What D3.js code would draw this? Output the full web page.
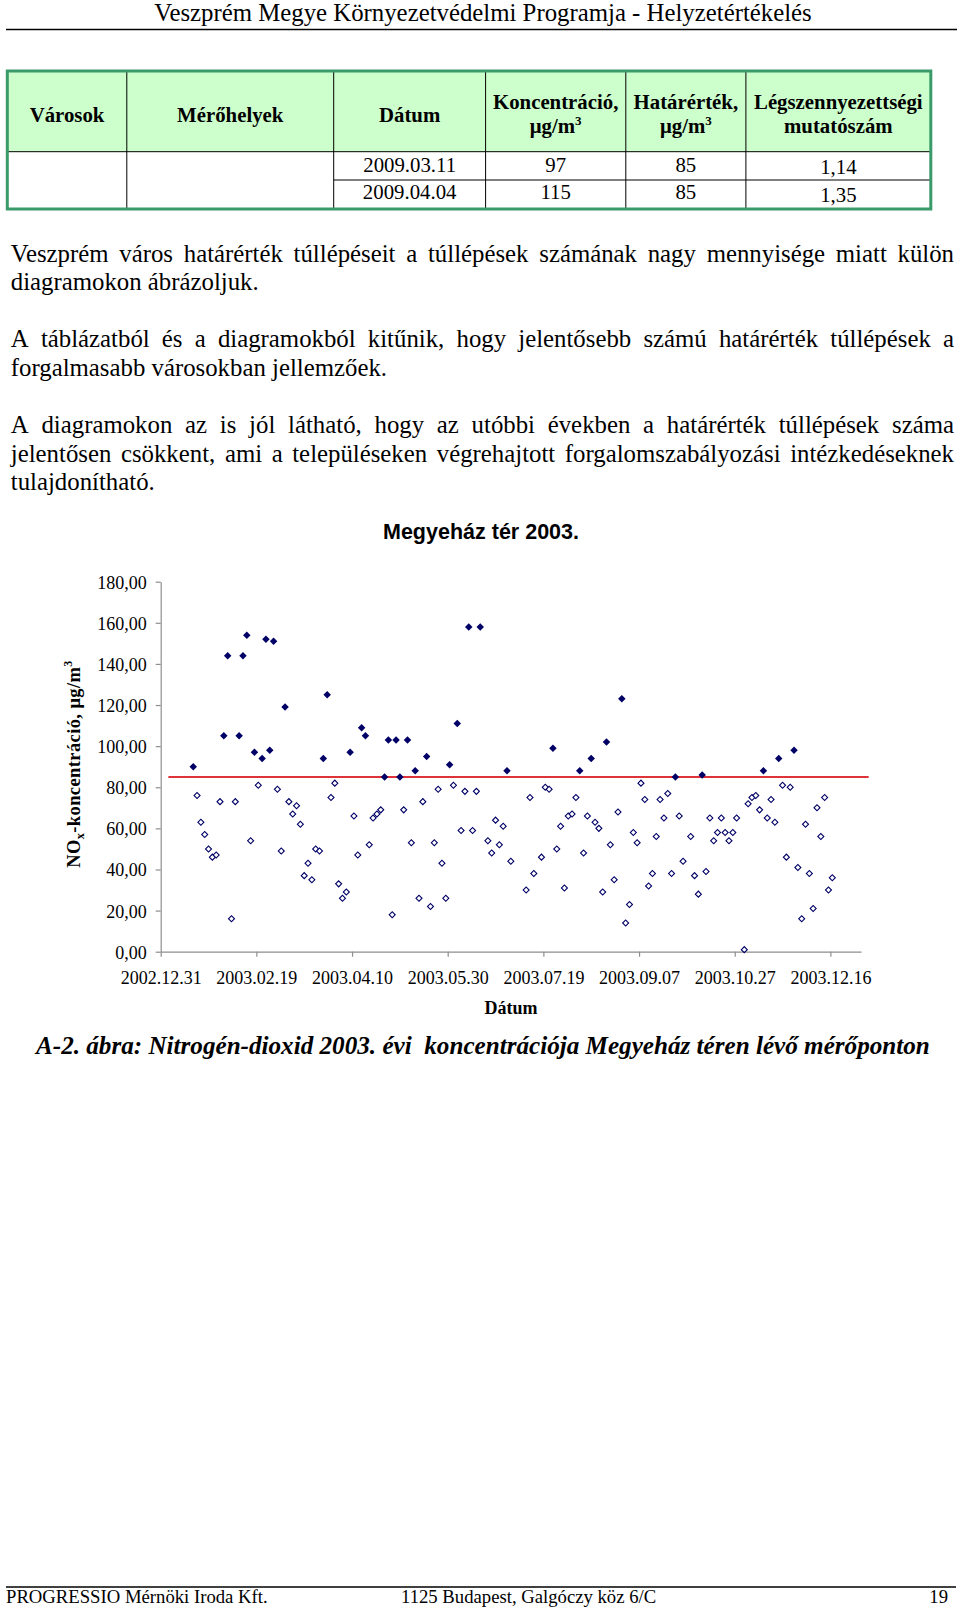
<!DOCTYPE html>
<html><head><meta charset="utf-8">
<script src="https://cdn.jsdelivr.net/npm/d3@7"></script>
<style>
html,body{margin:0;padding:0;background:#fff;}
svg{display:block;}
</style></head><body>
<svg id="page" width="960" height="1608"></svg>
<script>
// ---------------- DATA ----------------
const pageHeader = "Veszprém Megye Környezetvédelmi Programja - Helyzetértékelés";
const pageFooter = ["PROGRESSIO Mérnöki Iroda Kft.", "1125 Budapest, Galgóczy köz 6/C", "19"];

const tableHeaderLines = [["Városok"], ["Mérőhelyek"], ["Dátum"], ["Koncentráció,", "μg/m^3"], ["Határérték,", "μg/m^3"], ["Légszennyezettségi", "mutatószám"]];
const tableRow1 = ["", "", "2009.03.11", "97", "85", "1,14"];
const tableRow2 = ["", "", "2009.04.04", "115", "85", "1,35"];

const paragraphLines = [
  "Veszprém város határérték túllépéseit a túllépések számának nagy mennyisége miatt külön",
  "diagramokon ábrázoljuk.",
  "A táblázatból és a diagramokból kitűnik, hogy jelentősebb számú határérték túllépések a",
  "forgalmasabb városokban jellemzőek.",
  "A diagramokon az is jól látható, hogy az utóbbi években a határérték túllépések száma",
  "jelentősen csökkent, ami a településeken végrehajtott forgalomszabályozási intézkedéseknek",
  "tulajdonítható."
];
const paragraphJustified = [true, false, true, false, true, true, false];

const chartTitle = "Megyeház tér 2003.";
const xAxisTitle = "Dátum";
const caption = "A-2. ábra: Nitrogén-dioxid 2003. évi  koncentrációja Megyeház téren lévő mérőponton";

const xDomainDates = ["2002.12.31", "2004.01.01"];
const xTickDates = ["2002.12.31", "2003.02.19", "2003.04.10", "2003.05.30", "2003.07.19", "2003.09.07", "2003.10.27", "2003.12.16"];
const yDomain = [0, 180];
const yTickValues = [0, 20, 40, 60, 80, 100, 120, 140, 160, 180];

const limitValue = 85;
const limitDates = ["2003.01.04", "2004.01.05"];

// exceedances (filled markers)
const exceedDates = ["2003.01.17","2003.02.02","2003.02.04","2003.02.10","2003.02.12","2003.02.14","2003.02.18","2003.02.22","2003.02.24","2003.02.26","2003.02.28","2003.03.06","2003.03.26","2003.03.28","2003.04.09","2003.04.15","2003.04.17","2003.04.27","2003.04.29","2003.05.03","2003.05.05","2003.05.09","2003.05.13","2003.05.19","2003.05.31","2003.06.04","2003.06.10","2003.06.16","2003.06.30","2003.07.24","2003.08.07","2003.08.13","2003.08.21","2003.08.29","2003.09.26","2003.10.10","2003.11.11","2003.11.19","2003.11.27"];
const exceedValues = [90,105,144,105,144,154,97,94,152,98,151,119,94,125,97,109,105,85,103,103,85,103,88,95,91,111,158,158,88,99,88,94,102,123,85,86,88,94,98];

// measurements under the limit (open markers)
const belowDates = ["2003.01.19","2003.01.21","2003.01.23","2003.01.25","2003.01.27","2003.01.29","2003.01.31","2003.02.06","2003.02.08","2003.02.16","2003.02.20","2003.03.02","2003.03.04","2003.03.08","2003.03.10","2003.03.12","2003.03.14","2003.03.16","2003.03.18","2003.03.20","2003.03.22","2003.03.24","2003.03.30","2003.04.01","2003.04.03","2003.04.05","2003.04.07","2003.04.11","2003.04.13","2003.04.19","2003.04.21","2003.04.23","2003.04.25","2003.05.01","2003.05.07","2003.05.11","2003.05.15","2003.05.17","2003.05.21","2003.05.23","2003.05.25","2003.05.27","2003.05.29","2003.06.02","2003.06.06","2003.06.08","2003.06.12","2003.06.14","2003.06.20","2003.06.22","2003.06.24","2003.06.26","2003.06.28","2003.07.02","2003.07.10","2003.07.12","2003.07.14","2003.07.18","2003.07.20","2003.07.22","2003.07.26","2003.07.28","2003.07.30","2003.08.01","2003.08.03","2003.08.05","2003.08.09","2003.08.11","2003.08.15","2003.08.17","2003.08.19","2003.08.23","2003.08.25","2003.08.27","2003.08.31","2003.09.02","2003.09.04","2003.09.06","2003.09.08","2003.09.10","2003.09.12","2003.09.14","2003.09.16","2003.09.18","2003.09.20","2003.09.22","2003.09.24","2003.09.28","2003.09.30","2003.10.04","2003.10.06","2003.10.08","2003.10.12","2003.10.14","2003.10.16","2003.10.18","2003.10.20","2003.10.22","2003.10.24","2003.10.26","2003.10.28","2003.11.01","2003.11.03","2003.11.05","2003.11.07","2003.11.09","2003.11.13","2003.11.15","2003.11.17","2003.11.21","2003.11.23","2003.11.25","2003.11.29","2003.12.01","2003.12.03","2003.12.05","2003.12.07","2003.12.09","2003.12.11","2003.12.13","2003.12.15","2003.12.17"];
const belowValues = [76,63,57,50,46,47,73,16,73,54,81,79,49,73,67,71,62,37,43,35,50,49,75,82,33,26,29,66,47,52,65,67,69,18,69,53,26,73,22,53,79,43,26,81,59,78,59,78,54,48,64,52,61,44,30,75,38,46,80,79,50,61,31,66,67,75,48,66,63,60,29,52,35,68,14,23,58,53,82,74,32,38,56,74,65,77,38,66,44,56,37,28,39,65,54,58,65,58,54,58,65,1,72,75,76,69,65,74,63,81,46,80,41,16,62,38,21,70,56,75,30,36];

// ---------------- DRAWING ----------------
const svg = d3.select("#page");
const serif = "'Liberation Serif','Times New Roman',Times,serif";
const sans = "'Liberation Sans',Arial,sans-serif";
const parse = d3.utcParse("%Y.%m.%d");

// page header
svg.append("text").attr("x", 483).attr("y", 21).attr("text-anchor", "middle")
  .attr("font-family", serif).attr("font-size", 24.8).text(pageHeader);
svg.append("line").attr("x1", 6).attr("x2", 957).attr("y1", 29.5).attr("y2", 29.5)
  .attr("stroke", "#000").attr("stroke-width", 1.6);

// table
const colX = [7.3, 126.8, 333.7, 485.6, 625.8, 745.9, 930.8];
const tTop = 71, tHead = 151.7, tMid = 180, tBot = 209;
const tbl = svg.append("g");
tbl.append("rect").attr("x", colX[0]).attr("y", tTop).attr("width", colX[6] - colX[0]).attr("height", tHead - tTop).attr("fill", "#ccffcc");
tbl.append("line").attr("x1", colX[0]).attr("x2", colX[6]).attr("y1", tHead).attr("y2", tHead).attr("stroke", "#000").attr("stroke-width", 1);
tbl.append("line").attr("x1", colX[2]).attr("x2", colX[6]).attr("y1", tMid).attr("y2", tMid).attr("stroke", "#000").attr("stroke-width", 1);
colX.slice(1, 6).forEach(cx => tbl.append("line").attr("x1", cx).attr("x2", cx).attr("y1", tTop).attr("y2", tBot).attr("stroke", "#000").attr("stroke-width", 1));
tbl.append("rect").attr("x", colX[0]).attr("y", tTop).attr("width", colX[6] - colX[0]).attr("height", tBot - tTop)
  .attr("fill", "none").attr("stroke", "#3a9a6a").attr("stroke-width", 3);

function richText(sel, str, supSize) {
  const parts = str.split("^");
  sel.append("tspan").text(parts[0]);
  if (parts[1]) sel.append("tspan").attr("dy", -8).attr("font-size", supSize).text(parts[1]);
}
tableHeaderLines.forEach((lines, i) => {
  const cx = (colX[i] + colX[i + 1]) / 2;
  const bases = lines.length === 1 ? [121.5] : [109, 133];
  lines.forEach((ln, j) => {
    const t = tbl.append("text").attr("x", cx).attr("y", bases[j]).attr("text-anchor", "middle")
      .attr("font-family", serif).attr("font-size", 20.8).attr("font-weight", "bold");
    richText(t, ln, 13);
  });
});
[tableRow1, tableRow2].forEach((row, r) => {
  row.forEach((v, i) => {
    if (!v) return;
    const cx = (colX[i] + colX[i + 1]) / 2;
    const yb = (r === 0 ? 171.7 : 199.3) + (i === 5 ? 2.5 : 0);
    tbl.append("text").attr("x", cx).attr("y", yb).attr("text-anchor", "middle")
      .attr("font-family", serif).attr("font-size", 20.8).text(v);
  });
});

// paragraphs
const paraBase = [262, 290.3, 347.3, 375.7, 433.3, 461.8, 490.2];
const pLeft = 10.8, pRight = 954;
paragraphLines.forEach((line, i) => {
  const g = svg.append("g").attr("font-family", serif).attr("font-size", 24.8);
  if (!paragraphJustified[i]) {
    g.append("text").attr("x", pLeft).attr("y", paraBase[i]).text(line);
    return;
  }
  const words = line.split(" ");
  const nodes = words.map(w => g.append("text").attr("y", paraBase[i]).text(w));
  const widths = nodes.map(n => n.node().getComputedTextLength());
  const total = d3.sum(widths);
  const gap = (pRight - pLeft - total) / (words.length - 1);
  let xx = pLeft;
  nodes.forEach((n, k) => { n.attr("x", xx); xx += widths[k] + gap; });
});

// chart
const x = d3.scaleUtc().domain(xDomainDates.map(parse)).range([160.7, 861]);
const y = d3.scaleLinear().domain(yDomain).range([951.7, 581.7]);
const axisColor = "#8e8e8e";

svg.append("text").attr("x", 481).attr("y", 539).attr("text-anchor", "middle")
  .attr("font-family", sans).attr("font-weight", "bold").attr("font-size", 21.5).text(chartTitle);

const gy = svg.append("g").attr("transform", `translate(${x.range()[0]},0)`)
  .call(d3.axisLeft(y).tickValues(yTickValues).tickSize(5).tickSizeOuter(0).tickPadding(9)
    .tickFormat(d => d3.format(".2f")(d).replace(".", ",")));
const gx = svg.append("g").attr("transform", `translate(0,${y(0)})`)
  .call(d3.axisBottom(x).tickValues(xTickDates.map(parse)).tickSize(5).tickSizeOuter(0).tickPadding(15)
    .tickFormat(d3.utcFormat("%Y.%m.%d")));
[gx, gy].forEach(g => {
  g.select(".domain").attr("stroke", axisColor).attr("stroke-width", 1.2);
  g.selectAll(".tick line").attr("stroke", axisColor).attr("stroke-width", 1.2);
  g.selectAll(".tick text").attr("font-family", serif).attr("font-size", 18).attr("fill", "#000");
});
gy.selectAll(".tick text").attr("dy", "0.36em");

// limit line
svg.append("path")
  .attr("d", d3.line().x(d => x(parse(d))).y(() => y(limitValue))(limitDates))
  .attr("stroke", "#dd3339").attr("stroke-width", 2).attr("fill", "none");

// markers
const openSym = d3.symbol().type(d3.symbolSquare).size(18)();
const fillSym = d3.symbol().type(d3.symbolSquare).size(28)();
svg.append("g").selectAll("path").data(d3.zip(belowDates, belowValues)).join("path")
  .attr("d", openSym)
  .attr("transform", d => `translate(${x(parse(d[0]))},${y(d[1])}) rotate(45)`)
  .attr("fill", "#fff").attr("stroke", "#000066").attr("stroke-width", 1.1);
svg.append("g").selectAll("path").data(d3.zip(exceedDates, exceedValues)).join("path")
  .attr("d", fillSym)
  .attr("transform", d => `translate(${x(parse(d[0]))},${y(d[1])}) rotate(45)`)
  .attr("fill", "#000066");

// axis titles
svg.append("text").attr("x", 511).attr("y", 1014).attr("text-anchor", "middle")
  .attr("font-family", serif).attr("font-weight", "bold").attr("font-size", 18).text(xAxisTitle);
const yt = svg.append("text").attr("transform", "translate(80,764) rotate(-90)").attr("text-anchor", "middle")
  .attr("font-family", serif).attr("font-weight", "bold").attr("font-size", 18.5).attr("letter-spacing", 0.4);
yt.append("tspan").text("NO");
yt.append("tspan").attr("dy", 4).attr("font-size", 12).text("x");
yt.append("tspan").attr("dy", -4).text("-koncentráció, μg/m");
yt.append("tspan").attr("dy", -8).attr("font-size", 12).text("3");

// caption
svg.append("text").attr("x", 36).attr("y", 1054).style("white-space", "pre")
  .attr("font-family", serif).attr("font-weight", "bold").attr("font-style", "italic").attr("font-size", 25.15).text(caption);

// footer
svg.append("line").attr("x1", 6).attr("x2", 956).attr("y1", 1587).attr("y2", 1587).attr("stroke", "#000").attr("stroke-width", 1.5);
svg.append("text").attr("x", 6).attr("y", 1603).attr("font-family", serif).attr("font-size", 18.7).text(pageFooter[0]);
svg.append("text").attr("x", 401).attr("y", 1603).attr("font-family", serif).attr("font-size", 18.7).text(pageFooter[1]);
svg.append("text").attr("x", 948).attr("y", 1603).attr("text-anchor", "end").attr("font-family", serif).attr("font-size", 18.7).text(pageFooter[2]);
</script>
</body></html>
